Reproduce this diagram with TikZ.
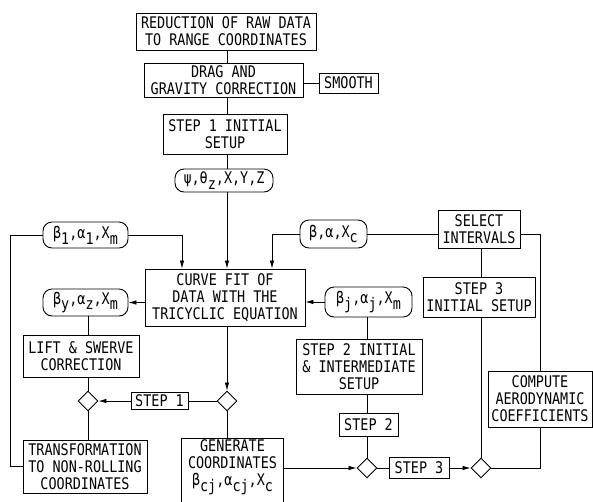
\documentclass[tikz,border=0pt]{standalone}
\usepackage{fontspec}
\newfontfamily\lbl{DejaVu Sans Mono}[FakeStretch=0.84]
\usetikzlibrary{shapes.geometric,arrows.meta}
\newcommand{\dn}[1]{\raisebox{-5.5pt}{#1}}
\tikzset{
  box/.style={draw, line width=0.9pt, inner sep=0pt, align=center, font=\lbl\fontsize{16}{17}\selectfont},
  pill/.style={box, rounded corners=9pt},
  dia/.style={draw, line width=0.9pt, diamond, aspect=1, minimum size=20pt, inner sep=0pt},
  conn/.style={line width=0.8pt},
  arr/.style={conn, -{Latex[length=8pt,width=4.5pt]}}
}
\begin{document}
\begin{tikzpicture}[x=1pt,y=-1pt]
\useasboundingbox (0,0) rectangle (593,501);
% column helpers
\coordinate (col) at (227,0);
\coordinate (colL) at (182,0);
\coordinate (colR) at (272,0);
\coordinate (lcol) at (88,0);
\coordinate (jcol) at (367,0);
\coordinate (scol) at (481,0);
% nodes
\node[box, minimum width=180pt, minimum height=37pt] (r1) at (226,31.5) {REDUCTION OF RAW DATA\\TO RANGE COORDINATES};
\node[box, minimum width=159pt, minimum height=34pt] (r2) at (223.5,80) {DRAG AND\\GRAVITY CORRECTION};
\node[box, minimum width=59pt, minimum height=20pt] (sm) at (348.5,83) {SMOOTH};
\node[box, minimum width=124pt, minimum height=40pt] (r3) at (225,134) {STEP 1 INITIAL\\SETUP};
\node[pill, minimum width=98pt, minimum height=23pt] (psi) at (224,180.5) {ψ,θ\dn{z},X,Y,Z};
\node[box, minimum width=160pt, minimum height=57pt] (cf) at (225,297.5) {CURVE FIT OF\\DATA WITH THE\\TRICYCLIC EQUATION};
\node[pill, minimum width=85pt, minimum height=26pt] (b1) at (85.5,235) {β\dn{1},α\dn{1},X\dn{m}};
\node[pill, minimum width=67pt, minimum height=28pt] (bc) at (333.5,234) {β,α,X\dn{c}};
\node[box, minimum width=82pt, minimum height=38pt] (sel) at (479,229) {SELECT\\INTERVALS};
\node[pill, minimum width=85pt, minimum height=27pt] (by) at (85.5,302.5) {β\dn{y},α\dn{z},X\dn{m}};
\node[pill, minimum width=87pt, minimum height=30pt] (bj) at (368.5,302) {β\dn{j},α\dn{j},X\dn{m}};
\node[box, minimum width=112pt, minimum height=40pt] (s3i) at (479,297) {STEP 3\\INITIAL SETUP};
\node[box, minimum width=116pt, minimum height=42pt] (lift) at (81,356) {LIFT \& SWERVE\\CORRECTION};
\node[box, minimum width=126pt, minimum height=55pt] (s2i) at (359,366.5) {STEP 2 INITIAL\\\& INTERMEDIATE\\SETUP};
\node[box, minimum width=104pt, minimum height=56pt] (comp) at (540,399) {COMPUTE\\AERODYNAMIC\\COEFFICIENTS};
\node[dia] (dL) at (88,401) {};
\node[dia] (dR) at (227,401) {};
\node[box, minimum width=57pt, minimum height=17pt] (st1) at (159.5,401) {STEP 1};
\node[box, minimum width=59pt, minimum height=23pt] (s2) at (368.5,424.5) {STEP 2};
\node[dia] (d2) at (367,468) {};
\node[dia] (d3) at (481,468) {};
\node[box, minimum width=60pt, minimum height=21pt] (s3) at (419,468) {STEP 3};
\node[box, minimum width=124pt, minimum height=53pt] (trans) at (85,466.5) {TRANSFORMATION\\TO NON-ROLLING\\COORDINATES};
\node[box, draw=none, minimum width=101pt, minimum height=58pt, anchor=north] (gen) at (232.5,438) {GENERATE\\COORDINATES\\β\dn{cj},α\dn{cj},X\dn{c}};
\draw[line width=0.9pt] ([yshift=-12pt]gen.south west) |- (gen.north east) -- ([yshift=-12pt]gen.south east);
% connectors
\draw[conn] (r1.south -| col) -- (r2.north -| col);
\draw[conn] (r2.south -| col) -- (r3.north -| col);
\draw[conn] (r3.south -| col) -- (psi.north -| col);
\draw[arr] (psi.south -| col) -- (cf.north -| col);
\draw[conn] (sm.west -| r2.east) -- (sm.west);
\draw[arr] (b1.east) -| (cf.north -| colL);
\draw[arr] (bc.west) -| (cf.north -| colR);
\draw[conn] (bc.east) -- (bc.east -| sel.west);
\draw[conn] (sel.east |- bc.east) -| (comp.north);
\draw[conn] (sel.south -| scol) -- (s3i.north -| scol);
\draw[conn] (s3i.south -| scol) -- (d3.north);
\draw[conn] (d3.east) -| (comp.south);
\draw[arr] (cf.west |- by.east) -- (by.east);
\draw[arr] (bj.west) -- (cf.east |- bj.west);
\draw[conn] (bj.south -| jcol) -- (s2i.north -| jcol);
\draw[conn] (s2i.south -| jcol) -- (s2.north -| jcol);
\draw[conn] (s2.south -| jcol) -- (d2.north);
\draw[arr] (cf.south -| col) -- (dR.north);
\draw[conn] (st1.east) -- (dR.west);
\draw[arr] (st1.west) -- (dL.east);
\draw[conn] (by.south -| lcol) -- (lift.north -| lcol);
\draw[conn] (lift.south -| lcol) -- (dL.north);
\draw[conn] (dL.south) -- (trans.north -| lcol);
\draw[conn] (b1.west) -- ++(-32,0) |- (trans.west);
\draw[conn] (dR.south) -- (gen.north -| dR);
\draw[arr] (gen.east |- d2) -- (d2.west);
\draw[conn] (d2.east) -- (s3.west);
\draw[arr] (s3.east) -- (d3.west);
\end{tikzpicture}
\end{document}
